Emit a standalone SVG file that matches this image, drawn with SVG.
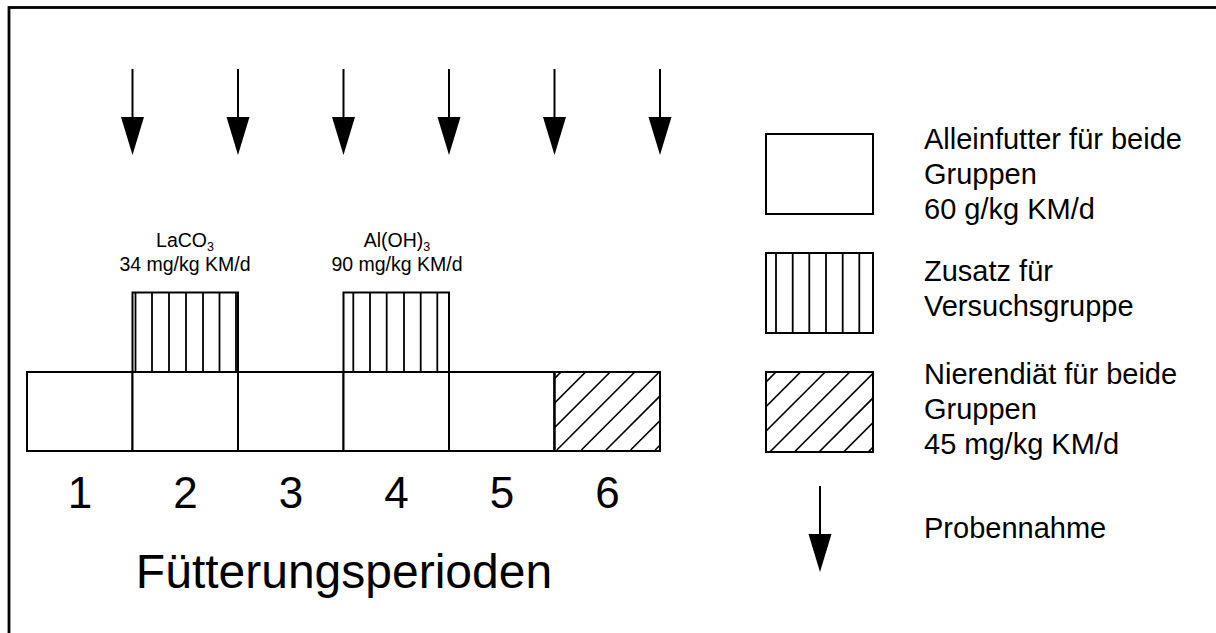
<svg xmlns="http://www.w3.org/2000/svg" width="1216" height="633" viewBox="0 0 1216 633">
  <style>
    text { font-family: "Liberation Sans", Arial, sans-serif; fill: #000; }
    .box { fill: #fff; stroke: #000; stroke-width: 2; }
    .ln { stroke: #000; stroke-width: 1.8; fill: none; }
    .hatch { stroke: #000; stroke-width: 1.6; fill: none; }
    .arrow-shaft { stroke: #000; stroke-width: 2; }
    .head { fill: #000; }
    .legend { font-size: 29px; }
    .num { font-size: 44px; text-anchor: middle; }
    .small { font-size: 19.5px; text-anchor: middle; }
  </style>
  <defs>
    <clipPath id="clipDiet">
      <rect x="554.5" y="372" width="105.5" height="79"/>
    </clipPath>
    <clipPath id="clipDietLegend">
      <rect x="766" y="372" width="107" height="80"/>
    </clipPath>
    <g id="sampleArrow">
      <line class="arrow-shaft" x1="0" y1="0" x2="0" y2="50"/>
      <polygon class="head" points="-11.5,48 11.5,48 0,86"/>
    </g>
  </defs>

  <rect width="1216" height="633" fill="#fff"/>
  <!-- outer frame (right and bottom edges lie outside the canvas) -->
  <rect x="9" y="7.5" width="1220" height="640" fill="none" stroke="#000" stroke-width="2.8"/>

  <!-- sampling arrows -->
  <g id="connectors">
    <use href="#sampleArrow" x="132.5" y="69"/>
    <use href="#sampleArrow" x="238" y="69"/>
    <use href="#sampleArrow" x="343.5" y="69"/>
    <use href="#sampleArrow" x="449" y="69"/>
    <use href="#sampleArrow" x="554.5" y="69"/>
    <use href="#sampleArrow" x="660" y="69"/>
  </g>

  <!-- feeding periods -->
  <g id="period1"><rect class="box" x="27" y="372" width="105.5" height="79"/></g>
  <g id="period2"><rect class="box" x="132.5" y="372" width="105.5" height="79"/></g>
  <g id="period3"><rect class="box" x="238" y="372" width="105.5" height="79"/></g>
  <g id="period4"><rect class="box" x="343.5" y="372" width="105.5" height="79"/></g>
  <g id="period5"><rect class="box" x="449" y="372" width="105.5" height="79"/></g>
  <g id="period6">
    <rect class="box" x="554.5" y="372" width="105.5" height="79"/>
    <g class="hatch" clip-path="url(#clipDiet)">
      <line x1="483" y1="450" x2="561" y2="372"/>
      <line x1="507.6" y1="450" x2="585.6" y2="372"/>
      <line x1="532.2" y1="450" x2="610.2" y2="372"/>
      <line x1="556.8" y1="450" x2="634.8" y2="372"/>
      <line x1="581.4" y1="450" x2="659.4" y2="372"/>
      <line x1="606" y1="450" x2="684" y2="372"/>
      <line x1="630.6" y1="450" x2="708.6" y2="372"/>
      <line x1="655.2" y1="450" x2="733.2" y2="372"/>
    </g>
    <rect x="554.5" y="372" width="105.5" height="79" fill="none" stroke="#000" stroke-width="2"/>
  </g>

  <!-- supplement blocks -->
  <g id="supplementLaCO3">
    <rect class="box" x="132.5" y="292.5" width="105.5" height="79.5"/>
    <path class="ln" d="M135.5,292.5V372 M152,292.5V372 M169,292.5V372 M186,292.5V372 M203,292.5V372 M219.5,292.5V372 M236,292.5V372"/>
    <text class="small" x="185" y="247">LaCO<tspan font-size="12.5" dy="3.5">3</tspan></text>
    <text class="small" x="185" y="271">34 mg/kg KM/d</text>
  </g>
  <g id="supplementAlOH3">
    <rect class="box" x="343.5" y="292.5" width="105.5" height="79.5"/>
    <path class="ln" d="M353.3,292.5V372 M370,292.5V372 M386.7,292.5V372 M404,292.5V372 M420.7,292.5V372 M437.3,292.5V372"/>
    <text class="small" x="397" y="247">Al(OH)<tspan font-size="12.5" dy="3.5">3</tspan></text>
    <text class="small" x="397" y="271">90 mg/kg KM/d</text>
  </g>

  <!-- period numbers and axis title -->
  <g id="periodLabels">
    <text class="num" x="80" y="508">1</text>
    <text class="num" x="185.5" y="508">2</text>
    <text class="num" x="291" y="508">3</text>
    <text class="num" x="396.5" y="508">4</text>
    <text class="num" x="502" y="508">5</text>
    <text class="num" x="607.5" y="508">6</text>
    <text x="344" y="588" font-size="48" text-anchor="middle">Fütterungsperioden</text>
  </g>

  <!-- legend -->
  <g id="legendPlain">
    <rect class="box" x="766" y="134" width="107" height="80"/>
    <text class="legend" x="924" y="149">Alleinfutter für beide</text>
    <text class="legend" x="924" y="184">Gruppen</text>
    <text class="legend" x="924" y="219">60 g/kg KM/d</text>
  </g>
  <g id="legendSupplement">
    <rect class="box" x="766" y="253" width="107" height="80"/>
    <path class="ln" d="M776,253V333 M792.7,253V333 M809.3,253V333 M826,253V333 M842.7,253V333 M859.3,253V333"/>
    <text class="legend" x="924" y="281">Zusatz für</text>
    <text class="legend" x="924" y="316">Versuchsgruppe</text>
  </g>
  <g id="legendDiet">
    <g class="hatch" clip-path="url(#clipDietLegend)">
      <line x1="696" y1="452" x2="776" y2="372"/>
      <line x1="720.6" y1="452" x2="800.6" y2="372"/>
      <line x1="745.2" y1="452" x2="825.2" y2="372"/>
      <line x1="769.8" y1="452" x2="849.8" y2="372"/>
      <line x1="794.4" y1="452" x2="874.4" y2="372"/>
      <line x1="819" y1="452" x2="899" y2="372"/>
      <line x1="843.6" y1="452" x2="923.6" y2="372"/>
      <line x1="868.2" y1="452" x2="948.2" y2="372"/>
    </g>
    <rect x="766" y="372" width="107" height="80" fill="none" stroke="#000" stroke-width="2"/>
    <text class="legend" x="924" y="384">Nierendiät für beide</text>
    <text class="legend" x="924" y="419">Gruppen</text>
    <text class="legend" x="924" y="454">45 mg/kg KM/d</text>
  </g>
  <g id="legendSampling">
    <use href="#sampleArrow" x="820" y="486"/>
    <text class="legend" x="924" y="538">Probennahme</text>
  </g>
</svg>
